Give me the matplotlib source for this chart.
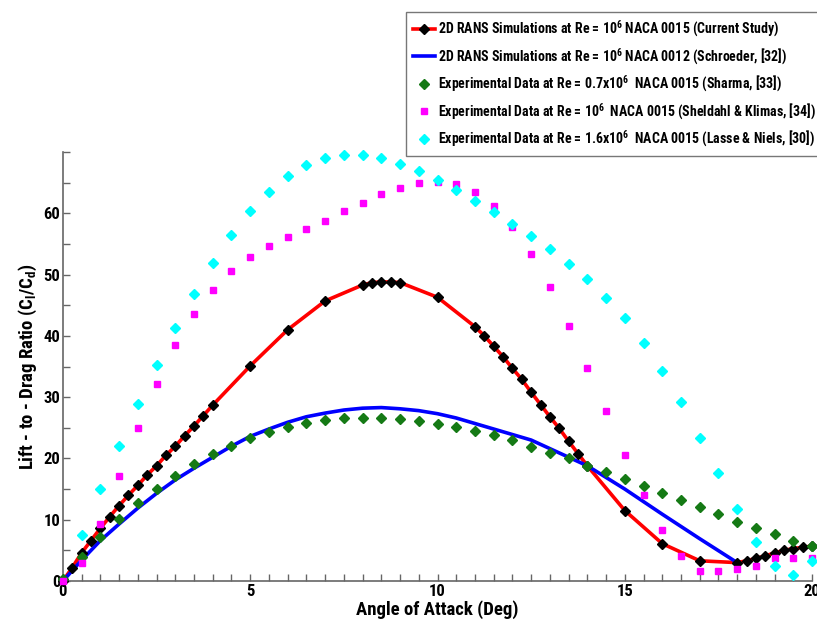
import matplotlib
matplotlib.use("Agg")
import matplotlib.pyplot as plt
from matplotlib.lines import Line2D

plt.rcParams['font.family'] = ['Roboto Condensed', 'Liberation Sans', 'DejaVu Sans']
plt.rcParams['font.weight'] = 'bold'
plt.rcParams['mathtext.fontset'] = 'custom'
plt.rcParams['mathtext.rm'] = 'Roboto Condensed:bold'
plt.rcParams['mathtext.it'] = 'Roboto Condensed:bold'
plt.rcParams['mathtext.bf'] = 'Roboto Condensed:bold'

# Current study (2D RANS, NACA 0015)
cur_aoa = [0, 0.25, 0.5, 0.75, 1, 1.25, 1.5, 1.75, 2, 2.25, 2.5, 2.75, 3, 3.25, 3.5, 3.75, 4,
           5, 6, 7, 8, 8.25, 8.5, 8.75, 9, 10, 11, 11.25, 11.5, 11.75, 12, 12.25, 12.5, 12.75,
           13, 13.25, 13.5, 13.75, 14, 15, 16, 17, 18, 18.25, 18.5, 18.75, 19, 19.25, 19.5, 19.75, 20]
cur_ld = [0, 2.2, 4.6, 6.6, 8.6, 10.5, 12.3, 14.0, 15.6, 17.3, 18.8, 20.5, 22.0, 23.7, 25.3, 27.0, 28.7,
          35.1, 41.0, 45.7, 48.3, 48.7, 48.8, 48.8, 48.7, 46.3, 41.5, 40.0, 38.3, 36.6, 34.7, 32.9, 30.8, 28.8,
          26.8, 24.9, 22.8, 20.8, 18.8, 11.5, 6.1, 3.3, 3.0, 3.3, 3.7, 4.1, 4.6, 5.0, 5.3, 5.5, 5.7]

# Schroeder NACA 0012
sch_aoa = [0, 0.5, 1, 1.5, 2, 2.5, 3, 3.5, 4, 4.5, 5, 5.5, 6, 6.5, 7, 7.5, 8, 8.5, 9, 9.5, 10,
           10.5, 11, 11.5, 12, 12.5, 13, 13.5, 14, 15, 16, 17, 18]
sch_ld = [0, 3.4, 6.6, 9.3, 11.9, 14.3, 16.5, 18.4, 20.2, 22.0, 23.6, 24.8, 25.9, 26.8, 27.4, 27.9, 28.2,
          28.3, 28.1, 27.8, 27.3, 26.6, 25.7, 24.8, 23.9, 23.0, 21.6, 20.2, 18.8, 15.0, 10.9, 6.9, 3.0]

# Sharma (Re 0.7e6)
sha_aoa = [0, 0.5, 1, 1.5, 2, 2.5, 3, 3.5, 4, 4.5, 5, 5.5, 6, 6.5, 7, 7.5, 8, 8.5, 9, 9.5, 10,
           10.5, 11, 11.5, 12, 12.5, 13, 13.5, 14, 14.5, 15, 15.5, 16, 16.5, 17, 17.5, 18, 18.5, 19, 19.5, 20]
sha_ld = [0.4, 3.9, 7.1, 10.1, 12.7, 15.0, 17.2, 19.1, 20.8, 22.1, 23.3, 24.3, 25.2, 25.8, 26.3, 26.6, 26.6,
          26.6, 26.4, 26.1, 25.7, 25.2, 24.5, 23.8, 23.0, 21.9, 20.9, 20.0, 18.8, 17.8, 16.7, 15.5, 14.4,
          13.2, 12.0, 10.9, 9.7, 8.6, 7.6, 6.6, 5.7]

# Sheldahl & Klimas (Re 1e6)
she_aoa = [0, 0.5, 1, 1.5, 2, 2.5, 3, 3.5, 4, 4.5, 5, 5.5, 6, 6.5, 7, 7.5, 8, 8.5, 9, 9.5, 10,
           10.5, 11, 11.5, 12, 12.5, 13, 13.5, 14, 14.5, 15, 15.5, 16, 16.5, 17, 17.5, 18, 18.5, 19, 19.5, 20]
she_ld = [0, 2.9, 9.3, 17.1, 25.0, 32.2, 38.5, 43.6, 47.5, 50.6, 52.8, 54.6, 56.1, 57.5, 58.8, 60.3, 61.7,
          63.1, 64.2, 65.0, 65.1, 64.8, 63.5, 61.2, 57.8, 53.4, 47.9, 41.6, 34.7, 27.7, 20.6, 14.0, 8.4,
          4.1, 1.7, 1.7, 2.0, 2.4, 3.7, 3.7, 3.7]

# Lasse & Niels (Re 1.6e6)
las_aoa = [0.5, 1, 1.5, 2, 2.5, 3, 3.5, 4, 4.5, 5, 5.5, 6, 6.5, 7, 7.5, 8, 8.5, 9, 9.5, 10,
           10.5, 11, 11.5, 12, 12.5, 13, 13.5, 14, 14.5, 15, 15.5, 16, 16.5, 17, 17.5, 18, 18.5, 19, 19.5, 20]
las_ld = [7.5, 15.0, 22.1, 28.9, 35.2, 41.3, 46.9, 51.9, 56.4, 60.3, 63.5, 66.1, 67.8, 69.1, 69.5, 69.5,
          69.1, 68.1, 66.9, 65.5, 63.8, 62.0, 60.2, 58.3, 56.3, 54.2, 51.8, 49.3, 46.2, 42.9, 38.8, 34.3,
          29.2, 23.4, 17.6, 11.7, 6.4, 2.4, 1.0, 3.3]

labels = [
    r'2D RANS Simulations at Re = 10$^6$ NACA 0015 (Current Study)',
    r'2D RANS Simulations at Re = 10$^6$ NACA 0012 (Schroeder, [32])',
    r'Experimental Data at Re = 0.7x10$^6$  NACA 0015 (Sharma, [33])',
    r'Experimental Data at Re = 10$^6$  NACA 0015 (Sheldahl & Klimas, [34])',
    r'Experimental Data at Re = 1.6x10$^6$  NACA 0015 (Lasse & Niels, [30])',
]

fig = plt.figure(figsize=(8.17, 6.23), dpi=100)
ax = fig.add_axes([0.077, 0.0674, 0.917, 0.6886])

ax.plot(cur_aoa, cur_ld, color='red', lw=2.6, zorder=3)
ax.plot(cur_aoa, cur_ld, ls='none', marker='D', ms=5.5, color='black', zorder=4, clip_on=False)
ax.plot(sch_aoa, sch_ld, color='blue', lw=2.6, zorder=3.5)
ax.plot(sha_aoa, sha_ld, ls='none', marker='D', ms=5, color='#157a15', zorder=5, clip_on=False)
ax.plot(she_aoa, she_ld, ls='none', marker='s', ms=5, color='#ff00ff', zorder=5, clip_on=False)
ax.plot(las_aoa, las_ld, ls='none', marker='D', ms=5, color='#00ffff', zorder=5, clip_on=False)

ax.set_xlim(0, 20)
ax.set_ylim(0, 70)
ax.set_xticks([0, 5, 10, 15, 20])
ax.set_xticks([i * 0.5 for i in range(41)], minor=True)
ax.set_yticks([0, 10, 20, 30, 40, 50, 60])
ax.set_yticks([5, 15, 25, 35, 45, 55, 65, 70], minor=True)
for s in ['top', 'right']:
    ax.spines[s].set_visible(False)
for s in ['left', 'bottom']:
    ax.spines[s].set_color('#666666')
    ax.spines[s].set_linewidth(1.2)
ax.tick_params(which='both', direction='in', color='#666666', width=1.0)
ax.tick_params(which='major', length=5, labelsize=12, pad=2)
ax.tick_params(which='minor', length=5)
for lab in ax.get_xticklabels() + ax.get_yticklabels():
    lab.set_fontweight('bold')

ax.set_xlabel('Angle of Attack (Deg)', fontsize=13.5, fontweight='bold', labelpad=1)
ax.set_ylabel(r'Lift - to - Drag Ratio (C$_l$/C$_d$)', fontsize=13.5, fontweight='bold', labelpad=3)

handles = [
    Line2D([], [], color='red', lw=2.6, marker='D', ms=5, mfc='black', mec='black'),
    Line2D([], [], color='blue', lw=2.6),
    Line2D([], [], ls='none', marker='D', ms=5, color='#157a15'),
    Line2D([], [], ls='none', marker='s', ms=5, color='#ff00ff'),
    Line2D([], [], ls='none', marker='D', ms=5, color='#00ffff'),
]
leg = fig.legend(handles, labels, loc='upper left', bbox_to_anchor=(0.497, 0.981),
                 prop={'weight': 'bold', 'size': 10.0}, frameon=True, fancybox=False,
                 edgecolor='#777777', handlelength=1.6, handletextpad=0.2,
                 labelspacing=0.5, borderpad=0.5, borderaxespad=0, framealpha=1)
leg.get_frame().set_linewidth(1.0)

fig.savefig('out.png', dpi=100)
